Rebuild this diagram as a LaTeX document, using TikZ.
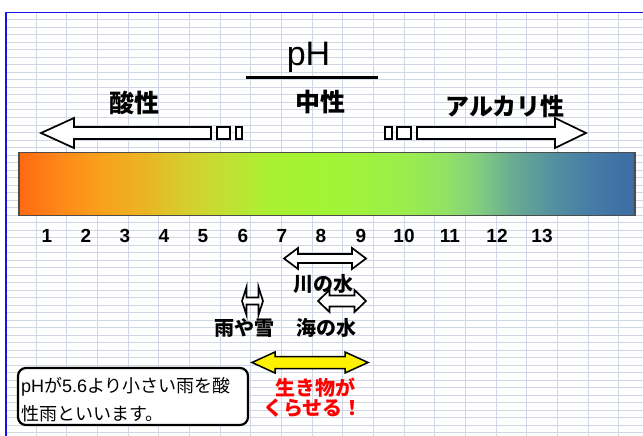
\documentclass[tikz,border=0pt]{standalone}
\usepackage{fontspec}
\setmainfont{Liberation Sans}
\newfontfamily\jp{Noto Sans CJK JP}
\definecolor{gridc}{RGB}{208,215,229}
\definecolor{borderblue}{RGB}{20,20,230}
\definecolor{c1}{HTML}{FF6A12}
\definecolor{c2}{HTML}{FF8818}
\definecolor{c3}{HTML}{F9A01C}
\definecolor{c4}{HTML}{E8B824}
\definecolor{c5}{HTML}{D6CE2E}
\definecolor{c6}{HTML}{BFE232}
\definecolor{c7}{HTML}{A9F032}
\definecolor{c8}{HTML}{A2F434}
\definecolor{c9}{HTML}{A0F23E}
\definecolor{c10}{HTML}{9AEC4E}
\definecolor{c11}{HTML}{90E068}
\definecolor{c12}{HTML}{80CC80}
\definecolor{c13}{HTML}{6AAE90}
\definecolor{c14}{HTML}{5492A0}
\definecolor{c15}{HTML}{467CA6}
\definecolor{c16}{HTML}{3C6CA4}
\newcommand{\harrow}[7]{%
  \path[#7] ({#1},{#3}) -- ({#1+#4},{#3-#5}) -- ({#1+#4},{#3-#6}) -- ({#2-#4},{#3-#6})
  -- ({#2-#4},{#3-#5}) -- ({#2},{#3}) -- ({#2-#4},{#3+#5}) -- ({#2-#4},{#3+#6})
  -- ({#1+#4},{#3+#6}) -- ({#1+#4},{#3+#5}) -- cycle;}
\newcommand{\lat}[1]{{\rmfamily #1}}
\tikzset{
  gridline/.style={draw=gridc, line width=0.9pt},
  blockarrow/.style={draw=black, fill=white, line width=1.7pt, line join=miter},
  yellowarrow/.style={draw=black, fill=yellow, line width=1.5pt, line join=miter},
  lbl/.style={inner sep=0pt, anchor=base},
  jpbig/.style={lbl, font=\jp\bfseries\fontsize{25}{30}\selectfont},
  jpmid/.style={lbl, font=\jp\bfseries\fontsize{20}{24}\selectfont},
  num/.style={lbl, font=\bfseries\fontsize{19}{22}\selectfont},
  redtxt/.style={lbl, text=red, font=\jp\bfseries\fontsize{20}{24}\selectfont},
  boxtxt/.style={lbl, anchor=base west, font=\jp\fontsize{18}{22}\selectfont},
}
\begin{document}
\begin{tikzpicture}[x=1pt,y=-1pt]
\useasboundingbox (0,0) rectangle (643,436);
\fill[white] (0,0) rectangle (643,436);
% spreadsheet grid
\foreach \i in {0,...,19} \draw[gridline] ({36+30.68*\i},12.3) -- ({36+30.68*\i},436);
\foreach \j in {1,...,56} \draw[gridline] (6,{12.3+7.51*\j}) -- (643,{12.3+7.51*\j});
\draw[borderblue, line width=1.5pt] (6,436) -- (6,12.3) -- (643,12.3);
% title
\node[lbl, font=\fontsize{34}{36}\selectfont] (title) at (308.5,65.5) {pH};
\draw[line width=3pt] (246,77.7) -- (378,77.7);
% top labels
\node[jpbig] (acid) at (134,113) {酸性};
\node[jpbig] (neutral) at (320,111) {中性};
\node[lbl, font=\jp\bfseries\fontsize{24}{28}\selectfont] (alkali) at (505,115) {アルカリ性};
% left block arrow
\path[blockarrow] (41,133) -- (74,118) -- (74,127) -- (211,127) -- (211,139) -- (74,139) -- (74,148) -- cycle;
\path[blockarrow] (217,127) rectangle (230,139);
\path[blockarrow] (236,127) rectangle (242,139);
% right block arrow
\path[blockarrow] (586,133) -- (555,118) -- (555,127) -- (417,127) -- (417,139) -- (555,139) -- (555,148) -- cycle;
\path[blockarrow] (397,127) rectangle (411,139);
\path[blockarrow] (385,127) rectangle (392,139);
% gradient bar
\foreach \xa/\xb/\ca/\cb in {19/60/c1/c2, 60/100/c2/c3, 100/150/c3/c4, 150/185/c4/c5,
  185/230/c5/c6, 230/270/c6/c7, 270/320/c7/c8, 320/360/c8/c9, 360/410/c9/c10,
  410/450/c10/c11, 450/480/c11/c12, 480/510/c12/c13, 510/550/c13/c14,
  550/590/c14/c15, 590/635/c15/c16}
  \shade[left color=\ca, right color=\cb] (\xa-0.3,152.5) rectangle (\xb+0.3,215.5);
\draw[black!70, line width=1.3pt] (19,152.5) rectangle (635,215.5);
% numbers
\foreach \v/\xx in {1/47, 2/86, 3/125, 4/164, 5/203, 6/243, 7/282, 8/321, 9/361,
  10/404, 11/450, 12/497, 13/542}
  \node[num] (n\v) at (\xx,242) {\v};
% lower arrows
\harrow{284}{366}{258.5}{14}{10.5}{4.5}{blockarrow}
\node[jpmid] (river) at (323,291) {川の水};
\harrow{242}{263}{301}{4.5}{14}{3.5}{blockarrow}
\node[jpmid] (rain) at (244,335) {雨や雪};
\harrow{318}{366}{301}{11.5}{11}{5.5}{blockarrow}
\node[jpmid] (sea) at (326,335) {海の水};
\harrow{252}{368}{362.5}{23}{10.5}{6}{yellowarrow}
\node[redtxt] (life1) at (315,395) {生き物が};
\node[redtxt] (life2) at (313,415) {くらせる！};
% note box
\draw[line width=2.2pt, rounded corners=8pt, fill=white] (18,368) rectangle (248,425);
\node[boxtxt] (note1) at (21,392) {\lat{pH}が\lat{5.6}より小さい雨を酸};
\node[boxtxt] (note2) at (21,420) {性雨といいます。};
\end{tikzpicture}
\end{document}
